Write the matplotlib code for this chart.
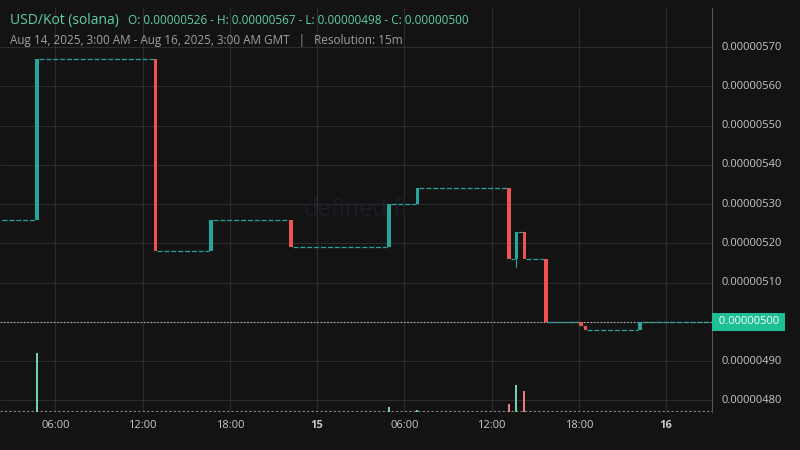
import matplotlib
matplotlib.use("Agg")
import matplotlib.pyplot as plt
import numpy as np

plt.rcParams['font.family'] = ['Open Sans', 'DejaVu Sans']

# hours since Aug 14 00:00 GMT, prices in units of 1e-8
START_H = 2.2
END_H = 51.15
candle_t = [4.75, 12.9, 16.7, 22.2, 28.95, 30.9, 37.2, 37.7, 38.25, 39.75, 42.15, 42.45, 46.2]
candle_o = [526, 567, 518, 526, 519, 530, 534, 516, 523, 516, 500, 499, 498]
candle_c = [567, 518, 526, 519, 530, 534, 516, 523, 516, 500, 499, 498, 500]
candle_l = [526, 518, 518, 519, 519, 530, 516, 514, 516, 500, 499, 498, 498]
first_open = 526
last_close = 500

vol_t = [4.75, 28.95, 30.9, 37.2, 37.7, 38.25]
vol_v = [60, 5, 2, 8, 27, 21]
vol_up = [True, True, True, False, True, False]

GREEN = "#26a69a"
GREEN2 = "#1fbf95"
RED = "#ef5350"
BG = "#131313"
GRID = "#2c2c2c"
TXT = "#c8c8c8"

fig = plt.figure(figsize=(8, 4.5), dpi=100, facecolor=BG)
ax = fig.add_axes([0, 38 / 450, 712 / 800, 404 / 450])
ax.set_facecolor(BG)
ax.set_xlim(START_H, END_H)
ax.set_ylim(477, 580)

# flat segments between candles (dashed dojis)
seg_start = [START_H] + candle_t
seg_price = [first_open] + candle_c
seg_end = candle_t + [END_H]
for s, e, p in zip(seg_start, seg_end, seg_price):
    ax.plot([s + 0.12, e - 0.12], [p, p], color=GREEN, lw=0.9, ls=(0, (4, 1.5)), zorder=3)

w = 0.24
for t, o, c, lo in zip(candle_t, candle_o, candle_c, candle_l):
    col = GREEN if c >= o else RED
    ax.bar(t, abs(c - o) if c != o else 0.3, bottom=min(o, c), width=w, color=col, zorder=4)
    if lo < min(o, c):
        ax.plot([t, t], [lo, min(o, c)], color=col, lw=0.8, zorder=4)

# last price line
ax.axhline(last_close, color="#aaaaaa", lw=0.8, ls=(0, (1.5, 1.5)), zorder=2)

# grid
yt = np.arange(480, 571, 10)
xt = [6, 12, 18, 24, 30, 36, 42, 48]
xl = ["06:00", "12:00", "18:00", "15", "06:00", "12:00", "18:00", "16"]
ax.set_yticks(yt)
ax.set_xticks(xt)
ax.grid(True, color=GRID, lw=0.8)
ax.set_axisbelow(True)
ax.tick_params(axis="y", left=False, labelleft=False)
ax.tick_params(axis="x", length=0, colors=TXT, labelsize=8, pad=6)
ax.set_xticklabels(xl)
for lab, txt in zip(ax.get_xticklabels(), xl):
    if txt in ("15", "16"):
        lab.set_fontweight("bold")
for s in ["top", "left", "bottom"]:
    ax.spines[s].set_visible(False)
ax.spines["right"].set_color("#555555")
ax.axhline(477.3, color="#888888", lw=0.8, ls=(0, (2, 2)))

for v in yt:
    if v == last_close:
        continue
    ax.text(1.013, (v - 477) / (580 - 477), f"{v * 1e-8:.8f}", transform=ax.transAxes,
            color=TXT, fontsize=8, va="center", ha="left")
ax.text(1.005, (last_close - 477) / (580 - 477), f" {last_close * 1e-8:.8f} ", transform=ax.transAxes,
        color="white", fontsize=8, va="center", ha="left",
        bbox=dict(boxstyle="square,pad=0.3", fc=GREEN2, ec="none"))

# volume
vax = ax.twinx()
vax.set_ylim(0, 60 * 404 / 59)
for t, v, up in zip(vol_t, vol_v, vol_up):
    vax.bar(t, v, width=0.14, color="#6fd3b0" if up else "#f07a80", zorder=2)
vax.set_yticks([])
for s in vax.spines.values():
    s.set_visible(False)

# watermark
ax.text(0.5, 0.5, "defined.fi", transform=ax.transAxes, color="#1c1c2a", fontsize=17,
        ha="center", va="center", zorder=1)

fig.text(0.012, 0.955, "USD/Kot (solana)", color="#5fd0a8", fontsize=10, va="center")
fig.text(0.16, 0.955, "O: 0.00000526 - H: 0.00000567 - L: 0.00000498 - C: 0.00000500",
         color="#5fd0a8", fontsize=8.5, va="center")
fig.text(0.012, 0.91, "Aug 14, 2025, 3:00 AM - Aug 16, 2025, 3:00 AM GMT   |   Resolution: 15m",
         color="#a0a0a0", fontsize=8.5, va="center")

fig.savefig("out.png", dpi=100, facecolor=BG)
